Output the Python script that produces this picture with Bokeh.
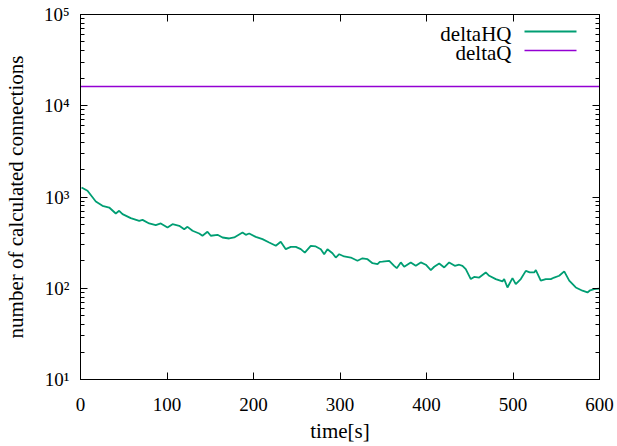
from bokeh.plotting import figure
from bokeh.models import (FixedTicker, LogAxis, LinearAxis, Label, BoxAnnotation,
                          CustomLabelingPolicy)
from bokeh.embed import file_html
from bokeh.resources import INLINE

# deltaHQ series (time in s, number of calculated connections)
time_hq = [1.2, 8.1, 17.7, 25.4, 33.2, 40.8, 44.7, 48.6, 58.1, 67.9, 71.7, 79.4, 87.0,
           92.8, 100.6, 106.4, 114.1, 119.9, 123.7, 129.5, 137.2, 141.0, 146.8, 150.6,
           158.4, 164.2, 171.9, 177.7, 187.3, 191.1, 195.0, 202.6, 210.4, 218.1, 225.8,
           231.5, 237.3, 243.1, 248.9, 254.7, 259.3, 266.2, 272.0, 277.8, 281.7, 285.5,
           291.3, 295.1, 299.1, 304.8, 312.5, 320.2, 326.0, 331.8, 337.6, 343.4, 346.0,
           349.1, 356.9, 362.6, 365.6, 370.3, 374.2, 381.8, 387.6, 393.4, 399.2, 405.0,
           408.9, 414.7, 420.5, 426.2, 432.7, 437.8, 441.6, 445.4, 451.2, 455.1, 460.9,
           468.5, 472.5, 480.1, 487.8, 489.8, 493.6, 499.4, 503.2, 509.0, 514.8, 519.4,
           524.5, 526.4, 532.1, 537.9, 543.7, 547.6, 553.4, 559.2, 565.0, 572.6, 580.3,
           586.1, 589.2, 593.8, 599.6]
delta_hq = [1271, 1170, 893, 801, 767, 659, 706, 649, 586, 548, 562, 513, 491,
            513, 463, 504, 484, 444, 471, 427, 398, 376, 416, 376,
            385, 360, 351, 360, 408, 385, 398, 366, 345, 317, 292,
            323, 268, 284, 284, 268, 246, 292, 287, 268, 236, 268,
            242, 217, 236, 223, 217, 200, 213, 208, 188, 184, 195,
            196, 200, 176, 166, 192, 172, 192, 176, 192, 181, 158,
            172, 187, 169, 192, 176, 181, 176, 162, 126, 133, 131,
            149, 137, 126, 119, 126, 102, 129, 111, 126, 155, 149,
            149, 158, 121, 126, 126, 131, 137, 153, 121, 102, 94,
            90, 95, 98, 99]

# deltaQ series (constant)
time_q = [0, 600]
delta_q = [16300, 16300]

series_names = ["deltaHQ", "deltaQ"]

x_ticks = [0, 100, 200, 300, 400, 500, 600]
y_ticks = [10, 100, 1000, 10000, 100000]
y_tick_labels = ["10\u00b9", "10\u00b2", "10\u00b3", "10\u2074", "10\u2075"]
y_minor = [m * 10 ** k for k in range(1, 5) for m in range(2, 10)]

FONT = "Liberation Serif"
TICK_FS = "19px"
LABEL_FS = "21px"
GREEN = "#009e73"
PURPLE = "#9400d3"

p = figure(frame_width=519, frame_height=365, x_range=(0, 600), y_range=(10, 1e5),
           y_axis_type="log", output_backend="svg", toolbar_location=None,
           min_border_left=73, min_border_right=9, min_border_top=14, min_border_bottom=56,
           background_fill_color="white", border_fill_color="white")
p.grid.visible = False
p.outline_line_color = "black"
p.outline_line_width = 1

xt = FixedTicker(ticks=x_ticks, minor_ticks=[])
yt = FixedTicker(ticks=y_ticks, minor_ticks=y_minor)

for ax in p.xaxis:
    ax.ticker = xt
p.xaxis[0].axis_label = "time[s]"
for ax in p.yaxis:
    ax.ticker = yt
    ax.major_label_overrides = {t: l for t, l in zip(y_ticks, y_tick_labels)}
p.yaxis[0].axis_label = "number of calculated connections"

for ax in list(p.xaxis) + list(p.yaxis):
    ax.major_tick_in = 7
    ax.major_tick_out = 0
    ax.minor_tick_in = 4
    ax.minor_tick_out = 0
    ax.axis_line_color = "black"
    ax.major_tick_line_color = "black"
    ax.minor_tick_line_color = "black"
    ax.major_label_text_font = FONT
    ax.major_label_text_font_size = TICK_FS
    ax.major_label_text_color = "black"
    ax.axis_label_text_font = FONT
    ax.axis_label_text_font_size = LABEL_FS
    ax.axis_label_text_font_style = "normal"
    ax.axis_label_text_color = "black"

p.xaxis[0].major_label_standoff = 18
p.yaxis[0].major_label_standoff = 11
p.xaxis[0].axis_label_standoff = 5
p.yaxis[0].axis_label_standoff = 13

# mirrored ticks (no labels)
no_labels = CustomLabelingPolicy(code="""
const all = [...indices];
for (const i of all) indices.unset(i);
return indices;
""")
top = LinearAxis(ticker=xt, major_tick_in=7, major_tick_out=0, minor_tick_out=0,
                 major_label_policy=no_labels, major_label_standoff=0,
                 axis_line_color="black")
right = LogAxis(ticker=yt, major_tick_in=7, major_tick_out=0, minor_tick_in=4, minor_tick_out=0,
                major_label_policy=no_labels, major_label_standoff=0,
                axis_line_color="black")
p.add_layout(top, "above")
p.add_layout(right, "right")

p.line(time_hq, delta_hq, line_color=GREEN, line_width=1.8)
p.line(time_q, delta_q, line_color=PURPLE, line_width=1.5)

# gnuplot-style key: text on the left, sample line on the right (screen units)
key_rows = [(series_names[0], GREEN, 1.8, 348), (series_names[1], PURPLE, 1.4, 329)]
for name, col, lw, yy in key_rows:
    p.add_layout(Label(x=431, y=yy - 2, x_units="screen", y_units="screen", text=name,
                       text_align="right", text_baseline="middle",
                       text_font=FONT, text_font_size=LABEL_FS,
                       text_color="black"))
    p.add_layout(BoxAnnotation(left=444, right=496, bottom=yy - lw / 2, top=yy + lw / 2,
                               left_units="screen", right_units="screen",
                               bottom_units="screen", top_units="screen",
                               fill_color=col, fill_alpha=1.0, line_color=None))

open("out.html", "w").write(file_html(p, INLINE))
